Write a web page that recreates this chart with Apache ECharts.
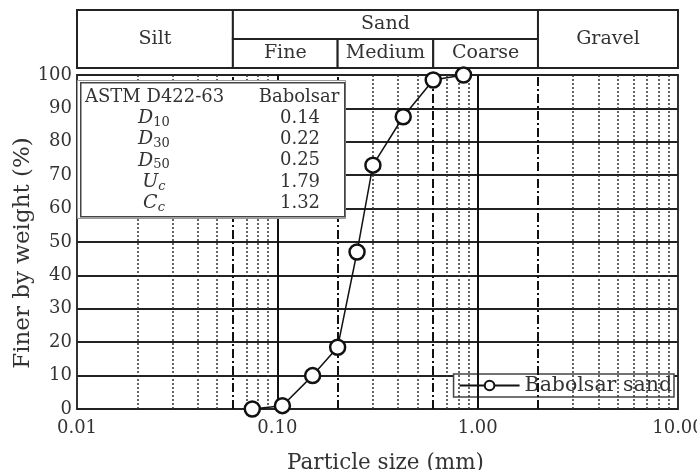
<!DOCTYPE html>
<html>
<head>
<meta charset="utf-8">
<script src="https://cdn.jsdelivr.net/npm/echarts@6/dist/echarts.min.js"></script>
<style>html,body{margin:0;padding:0;background:#fff}#chart{width:697px;height:470px}</style>
</head>
<body>
<div id="chart"></div>
<script>
// sieve sizes (mm) and percent passing
var sizes = [0.075, 0.106, 0.15, 0.2, 0.25, 0.3, 0.425, 0.6, 0.85];
var finer = [0, 1, 10, 18.5, 47, 73, 87.5, 98.5, 100];

// vertical grid lines
var dottedLines = [0.02, 0.03, 0.04, 0.05, 0.07, 0.08, 0.09, 0.3, 0.4, 0.5, 0.7, 0.8, 0.9, 3, 4, 5, 6, 7, 8, 9];
var boundaryLines = [0.06, 0.2, 0.6, 2];
var decadeLines = [0.1, 1];

// soil classes on top
var classNames = ['Silt', 'Sand', 'Fine', 'Medium', 'Coarse', 'Gravel'];
var classFrom = [0.01, 0.06, 0.06, 0.2, 0.6, 2];
var classTo = [0.06, 2, 0.2, 0.6, 2, 10];
var classLow = [0, 1, 0, 0, 0, 0];
var classHigh = [2, 2, 1, 1, 1, 2];

// inset table
var statSymbols = ['D', 'D', 'D', 'U', 'C'];
var statSubs = ['10', '30', '50', 'c', 'c'];
var statValues = [0.14, 0.22, 0.25, 1.79, 1.32];

var FONT = 'DejaVu Serif';
var TXT = '#333';

var mark = [];
dottedLines.forEach(function (v) {
  mark.push({xAxis: v, lineStyle: {type: [2, 2], width: 1.5, color: '#333'}});
});
boundaryLines.forEach(function (v) {
  mark.push({xAxis: v, lineStyle: {type: [9, 3, 2, 3], width: 2, color: '#111'}});
});
decadeLines.forEach(function (v) {
  mark.push({xAxis: v, lineStyle: {type: 'solid', width: 2, color: '#111'}});
});

var classData = classNames.map(function (n, i) {
  return [classFrom[i], classTo[i], classLow[i], classHigh[i]];
});

// inset table graphics
var tbl = [];
tbl.push({type: 'rect', left: 77, top: 80, z: 100,
  shape: {width: 268, height: 138},
  style: {fill: '#fff', stroke: '#999', lineWidth: 1}});
tbl.push({type: 'rect', left: 80, top: 82, z: 101,
  shape: {width: 264, height: 134},
  style: {fill: '#fff', stroke: '#444', lineWidth: 1.5}});
tbl.push({type: 'text', x: 85, y: 97, z: 102,
  style: {text: 'ASTM D422-63', fontFamily: FONT, fontSize: 18, fill: TXT, align: 'left', verticalAlign: 'middle'}});
tbl.push({type: 'text', x: 299, y: 97, z: 102,
  style: {text: 'Babolsar', fontFamily: FONT, fontSize: 18, fill: TXT, align: 'center', verticalAlign: 'middle'}});
statSymbols.forEach(function (s, i) {
  var y = 118 + i * 21.3;
  var subKey = /\d/.test(statSubs[i]) ? 's' : 'si';
  tbl.push({type: 'text', x: 154, y: y, z: 102,
    style: {
      text: '{i|' + s + '}{' + subKey + '|' + statSubs[i] + '}',
      align: 'center', verticalAlign: 'middle',
      rich: {
        i: {fontFamily: FONT, fontSize: 19, fontStyle: 'italic', fill: TXT, color: TXT},
        s: {fontFamily: FONT, fontSize: 13, fill: TXT, color: TXT, padding: [9, 0, 0, 0]},
        si: {fontFamily: FONT, fontSize: 13, fontStyle: 'italic', fill: TXT, color: TXT, padding: [9, 0, 0, 0]}
      }
    }});
  tbl.push({type: 'text', x: 300, y: y, z: 102,
    style: {text: statValues[i].toFixed(2), fontFamily: FONT, fontSize: 18, fill: TXT, align: 'center', verticalAlign: 'middle'}});
});

var chart = echarts.init(document.getElementById('chart'));
chart.setOption({
  animation: false,
  textStyle: {fontFamily: FONT},
  grid: [
    {left: 77, right: 19, top: 75, bottom: 61, outerBoundsMode: 'none', containLabel: false,
      show: true, borderColor: '#333', borderWidth: 2, backgroundColor: '#fff'},
    {left: 77, right: 19, top: 10, height: 58, outerBoundsMode: 'none', containLabel: false}
  ],
  xAxis: [{
    type: 'log', logBase: 10, min: 0.01, max: 10, gridIndex: 0,
    name: 'Particle size (mm)', nameLocation: 'middle', nameGap: 43, nameMoveOverlap: false,
    nameTextStyle: {fontFamily: FONT, fontSize: 21.5, color: TXT, padding: [0, 0, 0, 16]},
    axisLine: {show: false}, axisTick: {show: false}, splitLine: {show: false},
    axisLabel: {fontFamily: FONT, fontSize: 18, color: TXT, margin: 10, showMinLabel: true, showMaxLabel: true,
      formatter: function (v) { return v.toFixed(2); }}
  }, {
    type: 'log', logBase: 10, min: 0.01, max: 10, gridIndex: 1, show: false
  }],
  yAxis: [{
    type: 'value', min: 0, max: 100, interval: 10, gridIndex: 0,
    name: 'Finer by weight (%)', nameLocation: 'middle', nameGap: 42, nameRotate: 90,
    nameMoveOverlap: false,
    nameTextStyle: {fontFamily: FONT, fontSize: 23, color: TXT, padding: [0, 22, 0, 0]},
    axisLine: {show: false}, axisTick: {show: false},
    splitLine: {show: true, lineStyle: {color: '#222', width: 2}},
    axisLabel: {fontFamily: FONT, fontSize: 18, color: TXT, margin: 5}
  }, {
    type: 'value', min: 0, max: 2, gridIndex: 1, show: false
  }],
  legend: {
    data: ['Babolsar sand'],
    right: 23, top: 374,
    backgroundColor: '#fff', borderColor: '#444', borderWidth: 1.5,
    padding: [1, 2, 1, 5], itemWidth: 60, itemHeight: 12, itemGap: 4,
    textStyle: {fontFamily: FONT, fontSize: 20.5, color: TXT}
  },
  series: [{
    name: 'grid lines', type: 'line', xAxisIndex: 0, yAxisIndex: 0, data: [], z: 1,
    markLine: {silent: true, symbol: 'none', label: {show: false}, data: mark}
  }, {
    name: 'Babolsar sand', type: 'line', xAxisIndex: 0, yAxisIndex: 0, z: 5, clip: false,
    data: sizes.map(function (s, i) { return [s, finer[i]]; }),
    symbol: 'circle', symbolSize: 15, showSymbol: true,
    lineStyle: {color: '#111', width: 1.5},
    itemStyle: {color: '#fff', borderColor: '#111', borderWidth: 2.5}
  }, {
    name: 'classes', type: 'custom', xAxisIndex: 1, yAxisIndex: 1,
    encode: {x: [0, 1], y: [2, 3]},
    data: classData,
    renderItem: function (params, api) {
      var p0 = api.coord([api.value(0), api.value(3)]);
      var p1 = api.coord([api.value(1), api.value(2)]);
      return {
        type: 'group',
        children: [{
          type: 'rect',
          shape: {x: p0[0], y: p0[1], width: p1[0] - p0[0], height: p1[1] - p0[1]},
          style: {fill: '#fff', stroke: '#222', lineWidth: 2}
        }, {
          type: 'text',
          style: {
            text: classNames[params.dataIndex],
            x: (p0[0] + p1[0]) / 2, y: (p0[1] + p1[1]) / 2,
            align: 'center', verticalAlign: 'middle',
            fontFamily: FONT, fontSize: 19, fill: TXT
          }
        }]
      };
    }
  }],
  graphic: tbl
});
</script>
</body>
</html>
